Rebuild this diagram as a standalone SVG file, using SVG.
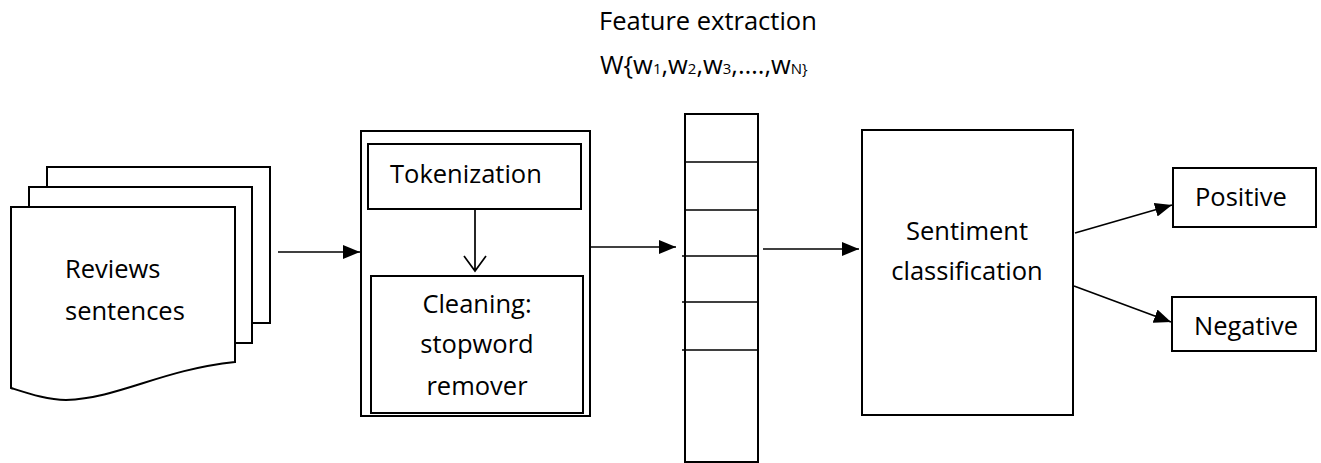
<svg xmlns="http://www.w3.org/2000/svg" width="1321" height="463" viewBox="0 0 1321 463">
  <style>
    .box { fill: #fff; stroke: #000; stroke-width: 2; }
    .line { fill: none; stroke: #000; stroke-width: 1.7; }
    .lbl { font-family: "Open Sans", "Liberation Sans", sans-serif; font-size: 25.5px; fill: #000; }
    .mid { text-anchor: middle; }
    .sub { font-size: 15px; }
  </style>
  <defs>
    <marker id="arrow" markerUnits="userSpaceOnUse" markerWidth="17" markerHeight="14" refX="17" refY="7" orient="auto">
      <path d="M0,0 L17,7 L0,14 Z" fill="#000"/>
    </marker>
  </defs>
  <rect width="1321" height="463" fill="#fff"/>

  <!-- Title -->
  <g id="title">
    <text class="lbl" x="599" y="30">Feature extraction</text>
    <text class="lbl" x="600" y="74">W{w<tspan class="sub">1</tspan>,w<tspan class="sub">2</tspan>,w<tspan class="sub">3</tspan>,….,w<tspan class="sub">N}</tspan></text>
  </g>

  <!-- Stacked documents -->
  <g id="reviews">
    <rect class="box" x="47" y="167" width="223" height="156"/>
    <rect class="box" x="29" y="187" width="223" height="156"/>
    <path class="box" d="M11,207 L235,207 L235,362 C160,370 120,398 66,400 C48,400 30,394 11,388 Z"/>
    <text class="lbl" x="65" y="278">Reviews</text>
    <text class="lbl" x="65" y="320">sentences</text>
  </g>

  <!-- Preprocessing block -->
  <g id="preprocessing">
    <rect class="box" x="361" y="131" width="229" height="285"/>
  </g>
  <g id="tokenization">
    <rect class="box" x="368" y="144" width="213" height="65"/>
    <text class="lbl" x="390" y="183">Tokenization</text>
  </g>
  <g id="cleaning">
    <rect class="box" x="371" y="276" width="212" height="137"/>
    <text class="lbl mid" x="477" y="313">Cleaning:</text>
    <text class="lbl mid" x="477" y="353">stopword</text>
    <text class="lbl mid" x="477" y="395">remover</text>
  </g>

  <!-- Feature vector -->
  <g id="feature-vector">
    <rect class="box" x="685" y="114" width="73" height="348"/>
    <path class="line" d="M685,162 H758 M685,210 H758 M682,256 H758 M682,302 H758 M682,350 H758" stroke-width="2"/>
  </g>

  <!-- Classifier -->
  <g id="sentiment">
    <rect class="box" x="862" y="130" width="211" height="285"/>
    <text class="lbl mid" x="967" y="240">Sentiment</text>
    <text class="lbl mid" x="967" y="280">classification</text>
  </g>

  <!-- Outputs -->
  <g id="positive">
    <rect class="box" x="1173" y="168" width="143" height="59"/>
    <text class="lbl" x="1195" y="206">Positive</text>
  </g>
  <g id="negative">
    <rect class="box" x="1172" y="297" width="144" height="54"/>
    <text class="lbl" x="1194" y="335">Negative</text>
  </g>

  <!-- Connectors -->
  <g id="connectors">
    <line class="line" x1="278" y1="252" x2="360" y2="252" marker-end="url(#arrow)"/>
    <path class="line" d="M475,209 V271 M464,256 L475,271 L486,256"/>
    <line class="line" x1="591" y1="247" x2="676" y2="247" marker-end="url(#arrow)"/>
    <line class="line" x1="763" y1="249" x2="859" y2="249" marker-end="url(#arrow)"/>
    <line class="line" x1="1075" y1="233" x2="1172" y2="205" marker-end="url(#arrow)"/>
    <line class="line" x1="1074" y1="286" x2="1171" y2="322" marker-end="url(#arrow)"/>
  </g>
</svg>
